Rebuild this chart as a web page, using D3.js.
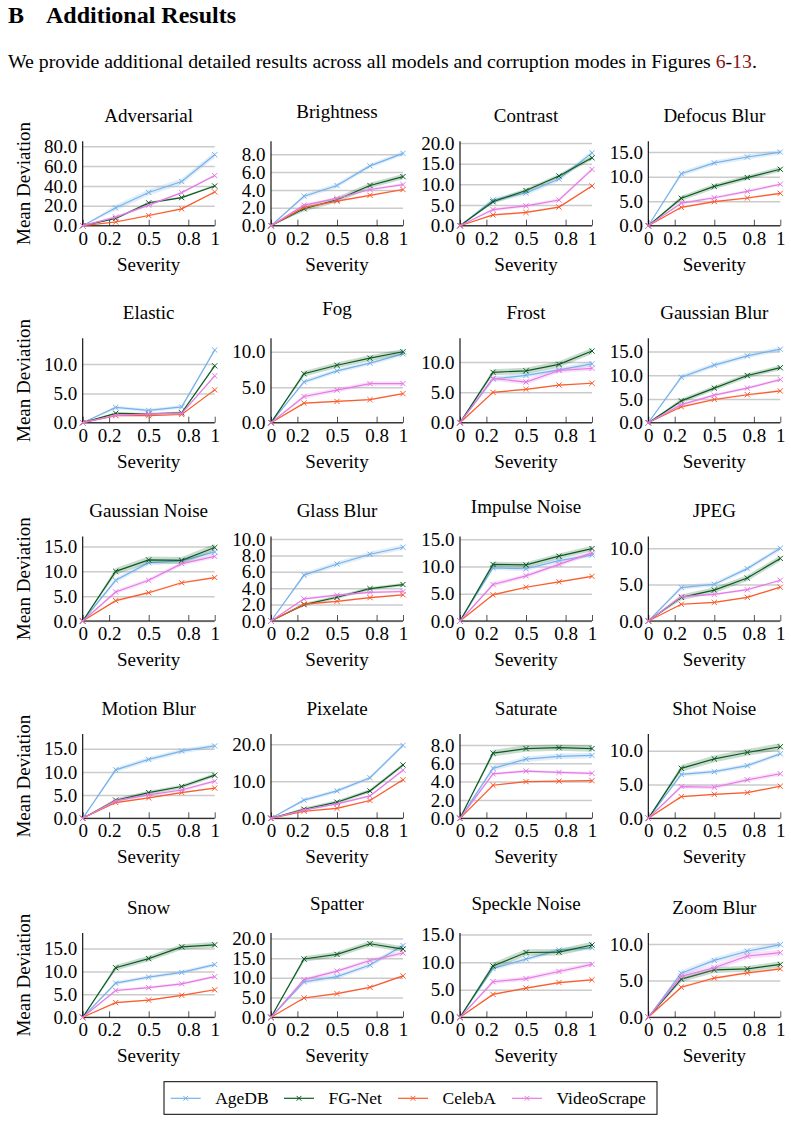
<!DOCTYPE html>
<html>
<head>
<meta charset="utf-8">
<script src="https://cdn.jsdelivr.net/npm/d3@7"></script>
<style>
  body { margin: 0; background: #fff; }
  text { font-family: "Liberation Serif", "Times New Roman", serif; fill: #000; }
</style>
</head>
<body>
<svg id="page"></svg>
<script>
// models and colours
var models = ["AgeDB", "FG-Net", "CelebA", "VideoScrape"];
var colors = ["#76b1ea", "#0b5b21", "#fb5a2b", "#e57ae5"];

var severity = [0, 0.25, 0.5, 0.75, 1];
var xTicks = [0, 0.2, 0.5, 0.8, 1];
var xTickLabels = ["0", "0.2", "0.5", "0.8", "1"];

var corruptions = ["Adversarial", "Brightness", "Contrast", "Defocus Blur",
    "Elastic", "Fog", "Frost", "Gaussian Blur",
    "Gaussian Noise", "Glass Blur", "Impulse Noise", "JPEG",
    "Motion Blur", "Pixelate", "Saturate", "Shot Noise",
    "Snow", "Spatter", "Speckle Noise", "Zoom Blur"];

var yMax  = [85, 9.45, 20.4, 17.2, 14.4, 11.9, 13.9, 17.8, 17.0, 10.3, 15.5, 11.6, 18.2, 22.8, 9.2, 12.5, 18.4, 21.4, 15.3, 11.5];
var yStep = [20, 2, 5, 5, 5, 5, 5, 5, 5, 2, 5, 5, 5, 10, 2, 5, 5, 5, 5, 5];

// mean deviation per corruption, one row per corruption
var ageDB = [
    [0, 18, 33.5, 44.5, 71.5],
    [0, 3.3, 4.5, 6.7, 8.1],
    [0, 6.2, 7.9, 11.3, 17.6],
    [0, 10.6, 12.8, 14.0, 15.0],
    [0, 2.6, 2.1, 2.7, 12.4],
    [0, 5.75, 7.3, 8.4, 9.7],
    [0, 7.2, 7.8, 8.7, 9.7],
    [0, 9.6, 12.15, 14.1, 15.5],
    [0, 8.2, 11.75, 12.1, 13.9],
    [0, 5.6, 6.95, 8.15, 9.0],
    [0, 9.75, 9.6, 11.1, 12.1],
    [0, 4.6, 5.05, 7.2, 10.0],
    [0, 10.45, 12.7, 14.5, 15.6],
    [0, 4.9, 7.4, 10.95, 19.7],
    [0, 5.45, 6.45, 6.75, 6.85],
    [0, 6.5, 6.9, 7.8, 9.55],
    [0, 7.45, 8.75, 9.8, 11.5],
    [0, 9.0, 10.3, 13.25, 18.2],
    [0, 8.85, 10.55, 12.2, 12.6],
    [0, 6.0, 7.75, 9.0, 9.9]
];
var fgNet = [
    [0, 7.3, 23, 28.3, 40],
    [0, 1.9, 2.9, 4.5, 5.5],
    [0, 5.8, 8.5, 12.0, 16.4],
    [0, 5.6, 8.0, 9.8, 11.5],
    [0, 1.6, 1.5, 1.7, 9.7],
    [0, 6.9, 8.1, 9.1, 10.0],
    [0, 8.3, 8.55, 9.6, 11.8],
    [0, 4.6, 7.3, 9.95, 11.6],
    [0, 10.0, 12.3, 12.2, 14.8],
    [0, 2.0, 2.9, 3.95, 4.45],
    [0, 10.4, 10.3, 11.9, 13.3],
    [0, 3.25, 4.25, 5.9, 8.6],
    [0, 3.9, 5.55, 6.85, 9.3],
    [0, 2.45, 4.35, 7.4, 14.4],
    [0, 7.1, 7.6, 7.7, 7.6],
    [0, 7.4, 8.8, 9.75, 10.6],
    [0, 10.8, 12.8, 15.35, 15.8],
    [0, 14.8, 15.95, 18.65, 17.3],
    [0, 9.3, 11.75, 11.8, 13.1],
    [0, 5.2, 6.45, 6.6, 7.2]
];
var celebA = [
    [0, 3.7, 10.3, 17, 34],
    [0, 2.05, 2.75, 3.4, 4.05],
    [0, 2.6, 3.2, 4.5, 9.6],
    [0, 3.75, 4.9, 5.65, 6.6],
    [0, 1.2, 1.2, 1.4, 5.6],
    [0, 2.75, 3.0, 3.25, 4.1],
    [0, 5.0, 5.5, 6.2, 6.5],
    [0, 3.35, 4.9, 5.9, 6.7],
    [0, 4.1, 5.7, 7.7, 8.75],
    [0, 2.05, 2.4, 2.85, 3.2],
    [0, 4.8, 6.2, 7.2, 8.2],
    [0, 2.3, 2.55, 3.25, 4.65],
    [0, 3.4, 4.4, 5.55, 6.5],
    [0, 1.9, 2.7, 4.8, 10.4],
    [0, 3.6, 4.0, 4.05, 4.1],
    [0, 3.2, 3.55, 3.8, 4.75],
    [0, 3.2, 3.75, 4.8, 6.0],
    [0, 4.9, 6.0, 7.6, 10.5],
    [0, 4.15, 5.3, 6.3, 6.8],
    [0, 4.1, 5.35, 6.05, 6.6]
];
var videoScrape = [
    [0, 8.7, 20.7, 33.3, 50.5],
    [0, 2.3, 3.05, 4.05, 4.6],
    [0, 3.9, 4.8, 6.2, 13.6],
    [0, 4.6, 5.7, 7.0, 8.45],
    [0, 1.25, 1.5, 1.6, 8.0],
    [0, 3.7, 4.6, 5.5, 5.5],
    [0, 7.3, 6.7, 8.6, 8.95],
    [0, 3.8, 5.8, 7.3, 9.1],
    [0, 5.85, 8.2, 11.55, 13.0],
    [0, 2.7, 3.15, 3.5, 3.6],
    [0, 6.7, 8.3, 10.4, 12.5],
    [0, 3.35, 3.65, 4.3, 5.6],
    [0, 3.75, 5.05, 6.1, 8.0],
    [0, 2.25, 3.9, 6.05, 13.0],
    [0, 4.85, 5.15, 5.0, 4.9],
    [0, 4.7, 4.6, 5.7, 6.6],
    [0, 5.85, 6.45, 7.3, 8.85],
    [0, 9.55, 11.7, 14.4, 16.3],
    [0, 6.45, 7.0, 8.3, 9.6],
    [0, 5.6, 6.75, 8.35, 8.8]
];
// half width of the shaded band, per corruption: AgeDB, FG-Net, CelebA, VideoScrape
var bandWidth = [
    [3, 1, 0.8, 1.2], [0.25, 0.3, 0.1, 0.15], [0.6, 0.5, 0.2, 0.4], [0.5, 0.5, 0.2, 0.3],
    [0.3, 0.2, 0.1, 0.15], [0.3, 0.4, 0.1, 0.3], [0.4, 0.5, 0.1, 0.4], [0.5, 0.5, 0.2, 0.3],
    [0.5, 0.7, 0.2, 0.4], [0.3, 0.2, 0.1, 0.15], [0.4, 0.5, 0.15, 0.4], [0.3, 0.4, 0.1, 0.15],
    [0.5, 0.4, 0.15, 0.3], [0.5, 0.5, 0.2, 0.3], [0.3, 0.35, 0.05, 0.15], [0.3, 0.5, 0.1, 0.3],
    [0.4, 0.6, 0.15, 0.3], [0.6, 0.7, 0.2, 0.5], [0.4, 0.6, 0.15, 0.4], [0.4, 0.4, 0.15, 0.4]
];
var seriesData = [ageDB, fgNet, celebA, videoScrape];

var width = 791, height = 1122;
var colLeft = [82.7, 271, 460, 648.3];
var rowBottom = [225.7, 422.7, 621, 818.3, 1017.3];
var plotW = 132, plotH = 84.4;

var svg = d3.select("#page").attr("width", width).attr("height", height);
svg.append("rect").attr("width", width).attr("height", height).attr("fill", "#fff");

// heading and paragraph
var head = svg.append("text").attr("y", 23).style("font-size", "24px").style("font-weight", "bold");
head.append("tspan").attr("x", 8).text("B");
head.append("tspan").attr("x", 46).text("Additional Results");

var para = svg.append("text").attr("x", 8).attr("y", 68).style("font-size", "19.8px");
para.append("tspan").text("We provide additional detailed results across all models and corruption modes in Figures ");
para.append("tspan").style("fill", "#8b1414").text("6");
para.append("tspan").text("-");
para.append("tspan").style("fill", "#8b1414").text("13");
para.append("tspan").text(".");

function cross(sel, size) {
    sel.append("path").attr("d", "M" + (-size) + "," + (-size) + "L" + size + "," + size +
        "M" + (-size) + "," + size + "L" + size + "," + (-size));
}

corruptions.forEach(function(name, k) {
    var col = k % 4, row = Math.floor(k / 4);
    var g = svg.append("g")
        .attr("transform", "translate(" + colLeft[col] + "," + (rowBottom[row] - plotH) + ")");

    var x = d3.scaleLinear().domain([0, 1]).range([0, plotW]);
    var y = d3.scaleLinear().domain([0, yMax[k]]).range([plotH, 0]);
    var yt = d3.range(0, yMax[k] + 1e-9, yStep[k]);

    // horizontal grid + y labels
    var ya = g.append("g")
        .call(d3.axisLeft(y).tickValues(yt).tickSize(-plotW).tickPadding(5.4).tickFormat(d3.format(".1f")));
    ya.select(".domain").remove();
    ya.selectAll("line").attr("stroke", "#cbcbcb").attr("stroke-width", 1.5);
    ya.selectAll("text").style("font-size", "19px").style("font-family", "Liberation Serif");

    // x ticks pointing inward
    var xa = g.append("g").attr("transform", "translate(0," + plotH + ")")
        .call(d3.axisBottom(x).tickValues(xTicks).tickSize(-6).tickPadding(5.6)
            .tickFormat(function(d, i) { return xTickLabels[i]; }));
    xa.select(".domain").remove();
    xa.selectAll("line").attr("stroke", "#555").attr("stroke-width", 1);
    xa.selectAll("text").style("font-size", "19px").style("font-family", "Liberation Serif");

    // axis lines
    g.append("line").attr("x1", 0).attr("x2", 0).attr("y1", 0).attr("y2", plotH)
        .attr("stroke", "#000").attr("stroke-width", 1.1);
    g.append("line").attr("x1", 0).attr("x2", plotW).attr("y1", plotH).attr("y2", plotH)
        .attr("stroke", "#000").attr("stroke-width", 1.1);

    // series
    seriesData.forEach(function(series, m) {
        var vals = series[k];
        var pts = severity.map(function(s, i) {
            return { s: s, v: vals[i], w: i === 0 ? 0 : bandWidth[k][m] };
        });
        var area = d3.area()
            .x(function(d) { return x(d.s); })
            .y0(function(d) { return y(Math.max(0, d.v - d.w)); })
            .y1(function(d) { return y(d.v + d.w); });
        g.append("path").datum(pts).attr("d", area)
            .attr("fill", colors[m]).attr("fill-opacity", 0.22);
        var line = d3.line().x(function(d) { return x(d.s); }).y(function(d) { return y(d.v); });
        g.append("path").datum(pts).attr("d", line)
            .attr("fill", "none").attr("stroke", colors[m]).attr("stroke-width", 1.2);
        g.selectAll(".mk" + m).data(pts).enter().append("g")
            .attr("transform", function(d) { return "translate(" + x(d.s) + "," + y(d.v) + ")"; })
            .attr("stroke", colors[m]).attr("stroke-width", 1)
            .each(function() { cross(d3.select(this), 2.6); });
    });

    // title
    var desc = /[gjpqy]/.test(name);
    g.append("text").attr("x", plotW / 2).attr("y", desc ? -23.3 : -19.3)
        .attr("text-anchor", "middle").style("font-size", "19px").text(name);

    // x label
    g.append("text").attr("x", plotW / 2).attr("y", plotH + 45)
        .attr("text-anchor", "middle").style("font-size", "19px").text("Severity");

    if (col === 0) {
        g.append("text")
            .attr("transform", "translate(" + (30 - colLeft[0]) + "," + (plotH / 2) + ") rotate(-90)")
            .attr("text-anchor", "middle").style("font-size", "19px").text("Mean Deviation");
    }
});

// legend
var legend = svg.append("g");
legend.append("rect").attr("x", 164).attr("y", 1081.7).attr("width", 493).attr("height", 32.6)
    .attr("fill", "#fff").attr("stroke", "#000").attr("stroke-width", 1);
var legendX = [170.7, 284, 398, 512];
models.forEach(function(mname, m) {
    var lx = legendX[m], ly = 1098.3;
    legend.append("line").attr("x1", lx).attr("x2", lx + 30).attr("y1", ly).attr("y2", ly)
        .attr("stroke", colors[m]).attr("stroke-width", 1.2);
    var mk = legend.append("g").attr("transform", "translate(" + (lx + 15) + "," + ly + ")")
        .attr("stroke", colors[m]).attr("stroke-width", 1);
    cross(mk, 2.4);
    legend.append("text").attr("x", lx + 44.5).attr("y", ly + 6)
        .style("font-size", "17.5px").text(mname);
});
</script>
</body>
</html>
